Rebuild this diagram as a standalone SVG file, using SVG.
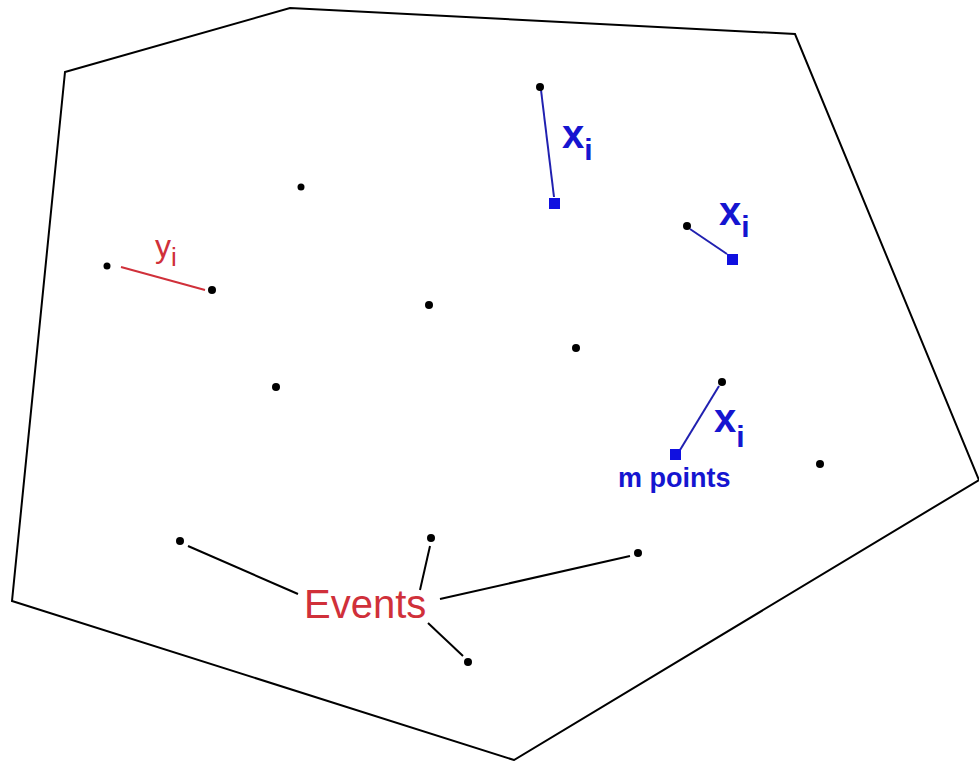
<svg xmlns="http://www.w3.org/2000/svg" width="979" height="761" viewBox="0 0 979 761">
<style>
.edge{stroke:#000;stroke-width:2;fill:none}
.bl{stroke:#2020b0;stroke-width:2;fill:none}
.rd{stroke:#d0303a;stroke-width:2;fill:none}
.dot{fill:#000}
.sq{fill:#1010e0}
.bt{fill:#1515d0;font-family:"Liberation Sans",Arial,sans-serif}
.xi{font-weight:bold}
.rt{fill:#d0303a;font-family:"Liberation Sans",Arial,sans-serif}
</style>
<rect width="979" height="761" fill="#fff"/>
<g id="region">
<polygon class="edge" points="65,72 290,8 795,34 979,480 514,760 12,601"/>
</g>
<g id="connectors">
<line class="bl" x1="541" y1="90" x2="554" y2="197"/>
<line class="bl" x1="690" y1="229" x2="727" y2="254"/>
<line class="bl" x1="719" y1="386" x2="680" y2="450"/>
<line class="rd" x1="121" y1="267" x2="205" y2="290"/>
<line class="edge" x1="188" y1="546" x2="298" y2="594"/>
<line class="edge" x1="430" y1="546" x2="420" y2="590"/>
<line class="edge" x1="440" y1="599" x2="630" y2="556"/>
<line class="edge" x1="428" y1="623" x2="463" y2="656"/>
</g>
<g id="points">
<circle class="dot" cx="540" cy="87" r="4"/>
<circle class="dot" cx="301" cy="187" r="3.5"/>
<circle class="dot" cx="687" cy="226" r="4"/>
<circle class="dot" cx="107" cy="266" r="3.5"/>
<circle class="dot" cx="212" cy="290" r="4"/>
<circle class="dot" cx="429" cy="305" r="4"/>
<circle class="dot" cx="576" cy="348" r="4"/>
<circle class="dot" cx="276" cy="387" r="4"/>
<circle class="dot" cx="722" cy="382" r="4"/>
<circle class="dot" cx="820" cy="464" r="4"/>
<circle class="dot" cx="180" cy="541" r="4"/>
<circle class="dot" cx="431" cy="538" r="4"/>
<circle class="dot" cx="638" cy="553" r="4"/>
<circle class="dot" cx="468" cy="662" r="4"/>
</g>
<g id="m-points">
<rect class="sq" x="549" y="198" width="11" height="11"/>
<rect class="sq" x="727" y="254" width="11" height="11"/>
<rect class="sq" x="670" y="449" width="11" height="11"/>
</g>
<g id="labels">
<text class="bt xi" x="562" y="148" font-size="40">x<tspan font-size="30" dy="12">i</tspan></text>
<text class="bt xi" x="719" y="225" font-size="40">x<tspan font-size="30" dy="12">i</tspan></text>
<text class="bt xi" x="714" y="432" font-size="40">x<tspan font-size="30" dy="15">i</tspan></text>
<text class="bt" x="618" y="487" font-size="27" font-weight="bold">m points</text>
<text class="rt" x="155" y="257" font-size="32">y<tspan font-size="26" dy="9">i</tspan></text>
<text class="rt" x="304" y="618" font-size="40">Events</text>
</g>
</svg>
